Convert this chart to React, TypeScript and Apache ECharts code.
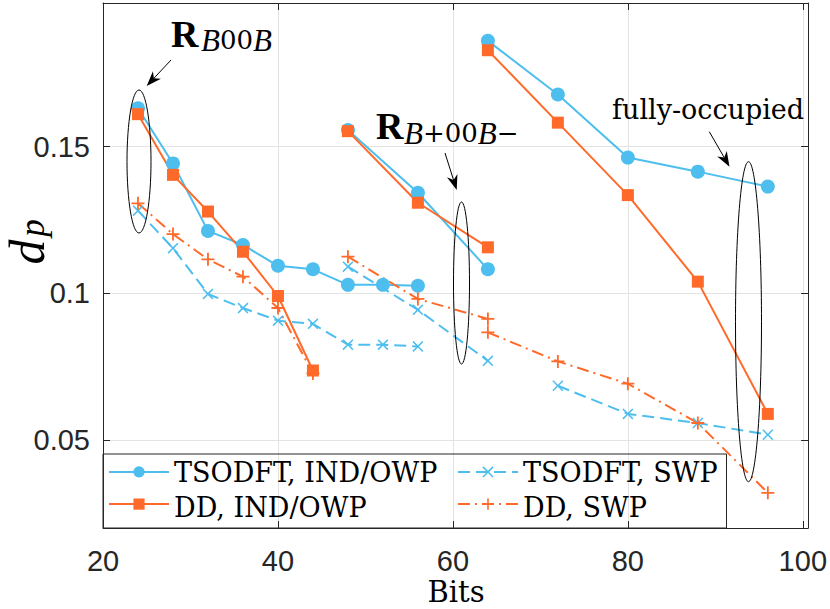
import React, { useEffect, useRef } from "react";
import * as echarts from "echarts";

// ---------- data ----------
const xTickValues = [20, 40, 60, 80, 100];
const yTickValues = [0.05, 0.1, 0.15];
const yTickLabels = ["0.05", "0.1", "0.15"];
const xAxisTitle = "Bits";

// TSODFT, IND/OWP
const tsodftIndB00B = [[24, 0.1631], [28, 0.1443], [32, 0.1213], [36, 0.1165], [40, 0.1094], [44, 0.1082], [48, 0.1029], [52, 0.1029], [56, 0.1026]];
const tsodftIndBp00Bm = [[48, 0.1557], [56, 0.1343], [64, 0.1082]];
const tsodftIndFull = [[64, 0.1861], [72, 0.1678], [80, 0.1463], [88, 0.1415], [96, 0.1364]];

// DD, IND/OWP
const ddIndB00B = [[24, 0.1611], [28, 0.1404], [32, 0.1279], [36, 0.1142], [40, 0.0991], [44, 0.0737]];
const ddIndBp00Bm = [[48, 0.1553], [56, 0.1309], [64, 0.1157]];
const ddIndFull = [[64, 0.1829], [72, 0.1582], [80, 0.1335], [88, 0.104], [96, 0.0589]];

// TSODFT, SWP
const tsodftSwpB00B = [[24, 0.1282], [28, 0.1154], [32, 0.0998], [36, 0.095], [40, 0.0907], [44, 0.0896], [48, 0.0825], [52, 0.0825], [56, 0.0819]];
const tsodftSwpBp00Bm = [[48, 0.1091], [56, 0.0944], [64, 0.077]];
const tsodftSwpFull = [[72, 0.0685], [80, 0.0589], [88, 0.0558], [96, 0.0518]];

// DD, SWP
const ddSwpB00B = [[24, 0.1307], [28, 0.1202], [32, 0.1116], [36, 0.1057], [40, 0.095], [44, 0.0727]];
const ddSwpBp00Bm = [[48, 0.1125], [56, 0.0981], [64, 0.0913]];
const ddSwpFull = [[64, 0.0867], [72, 0.0768], [80, 0.0692], [88, 0.0558], [96, 0.032]];

const legendCol1 = ["TSODFT, IND/OWP", "DD, IND/OWP"];
const legendCol2 = ["TSODFT, SWP", "DD, SWP"];

// ---------- styles ----------
const BLUE = "#4DBEEE";
const ORANGE = "#FF6A2A";
const AXIS = "#262626";
const GRID = "#E3E3E3";
const SERIF = "Liberation Serif";
const SERIF_REG = "DejaVu Serif";
const SANS = "Liberation Sans";

const X_PATH = "path://M1,0L5,4L9,0L10,1L6,5L10,9L9,10L5,6L1,10L0,9L4,5L0,1Z";
const PLUS_PATH = "path://M4.3,0L5.7,0L5.7,4.3L10,4.3L10,5.7L5.7,5.7L5.7,10L4.3,10L4.3,5.7L0,5.7L0,4.3L4.3,4.3Z";

const seriesDefs = [
  { name: legendCol1[0], segments: [tsodftIndB00B, tsodftIndBp00Bm, tsodftIndFull], color: BLUE, symbol: "circle", size: 14, dash: "solid" as any },
  { name: legendCol1[1], segments: [ddIndB00B, ddIndBp00Bm, ddIndFull], color: ORANGE, symbol: "rect", size: 12, dash: "solid" as any },
  { name: legendCol2[0], segments: [tsodftSwpB00B, tsodftSwpBp00Bm, tsodftSwpFull], color: BLUE, symbol: X_PATH, size: 11, dash: [12, 6] as any },
  { name: legendCol2[1], segments: [ddSwpB00B, ddSwpBp00Bm, ddSwpFull], color: ORANGE, symbol: PLUS_PATH, size: 13, dash: [12, 5, 2, 5] as any },
];

function arrow(x1: number, y1: number, x2: number, y2: number) {
  const dx = x2 - x1, dy = y2 - y1;
  const len = Math.hypot(dx, dy);
  const ux = dx / len, uy = dy / len;
  const px = -uy, py = ux;
  const L = 15, W = 5.5;
  const bx = x2 - ux * L, by = y2 - uy * L;
  const nx = x2 - ux * L * 0.7, ny = y2 - uy * L * 0.7;
  return [
    { type: "line", z: 20, shape: { x1, y1, x2: nx, y2: ny }, style: { stroke: "#000", lineWidth: 1 } },
    { type: "polygon", z: 20, shape: { points: [[x2, y2], [bx + px * W, by + py * W], [nx, ny], [bx - px * W, by - py * W]] }, style: { fill: "#000" } },
  ];
}

function ellipse(cx: number, cy: number, rx: number, ry: number) {
  return { type: "ellipse", z: 20, shape: { cx, cy, rx, ry }, style: { fill: "none", stroke: "#000", lineWidth: 1 } };
}

function serifText(text: string, x: number, y: number, size: number, align = "left") {
  return {
    type: "text", z: 20, x, y,
    style: { text, fontFamily: SERIF_REG, fontSize: size, lineHeight: size, fill: "#000", align, verticalAlign: "middle" },
  };
}

const subRich = {
  i: { fontFamily: SERIF, fontStyle: "italic", fontSize: 31, fill: "#000" },
  u: { fontFamily: SERIF_REG, fontSize: 26, fill: "#000" },
};

export default function App() {
  const ref = useRef<HTMLDivElement>(null);
  useEffect(() => {
    if (!ref.current) return;
    const chart = echarts.init(ref.current, null, { renderer: "svg" });
    const series: any[] = [];
    seriesDefs.forEach((d) => {
      d.segments.forEach((seg) => {
        series.push({
          name: d.name, type: "line", data: seg, symbol: d.symbol, symbolSize: d.size,
          showSymbol: true, showAllSymbol: true, silent: true,
          itemStyle: { color: d.color, borderWidth: 0 },
          lineStyle: { color: d.color, width: 2, type: d.dash },
          emphasis: { disabled: true },
        });
      });
    });

    // legend component draws the line+marker icons; its labels are drawn as serif texts below
    const legendCommon = {
      orient: "vertical", top: 466.3, itemWidth: 60, itemHeight: 14, itemGap: 21, padding: 0, selectedMode: false,
      formatter: () => "",
      textStyle: { fontSize: 10, lineHeight: 12 },
    };
    const axisLineStyle = { show: true, lineStyle: { color: AXIS, width: 1 } };
    const tick = { show: true, inside: true, length: 7, lineStyle: { color: AXIS, width: 1 } };

    chart.setOption({
      animation: false,
      backgroundColor: "#fff",
      grid: { left: 103, top: 3, right: 19, bottom: 81, containLabel: false },
      xAxis: [
        {
          type: "value", min: 20, max: 100.6, minInterval: 20, maxInterval: 20, position: "bottom",
          axisLine: axisLineStyle, axisTick: tick,
          splitLine: { show: true, lineStyle: { color: GRID, width: 1 } },
          axisLabel: {
            margin: 18, fontFamily: SANS, fontSize: 29, lineHeight: 29, color: AXIS,
            formatter: (v: number) => (xTickValues.some((t) => Math.abs(t - v) < 1e-6) ? String(Math.round(v)) : ""),
          },
        },
        {
          type: "value", min: 20, max: 100.6, minInterval: 20, maxInterval: 20, position: "top",
          axisLine: axisLineStyle, axisTick: tick, splitLine: { show: false }, axisLabel: { show: false },
        },
      ],
      yAxis: [
        {
          type: "value", min: 0.02, max: 0.199, minInterval: 0.05, maxInterval: 0.05, position: "left",
          axisLine: axisLineStyle, axisTick: tick,
          splitLine: { show: true, lineStyle: { color: GRID, width: 1 } },
          axisLabel: {
            margin: 13, fontFamily: SANS, fontSize: 29, lineHeight: 29, color: AXIS,
            formatter: (v: number) => {
              const i = yTickValues.findIndex((t) => Math.abs(t - v) < 1e-6);
              return i >= 0 ? yTickLabels[i] : "";
            },
          },
        },
        {
          type: "value", min: 0.02, max: 0.199, minInterval: 0.05, maxInterval: 0.05, position: "right",
          axisLine: axisLineStyle, axisTick: tick, splitLine: { show: false }, axisLabel: { show: false },
        },
      ],
      legend: [
        { ...legendCommon, left: 108, data: legendCol1 },
        { ...legendCommon, left: 457, data: legendCol2 },
      ],
      graphic: [
        { type: "rect", z: 15, shape: { x: 103, y: 454, width: 623.5, height: 74 }, style: { fill: "none", stroke: AXIS, lineWidth: 1 } },
        serifText(legendCol1[0], 174, 472.5, 27),
        serifText(legendCol1[1], 174, 507.5, 27),
        serifText(legendCol2[0], 523, 472.5, 27),
        serifText(legendCol2[1], 523, 507.5, 27),
        serifText(xAxisTitle, 456, 592, 29, "center"),
        ellipse(139, 161.5, 12, 71.5),
        ellipse(461.5, 283, 8, 81),
        ellipse(748.5, 321.7, 13, 160),
        ...arrow(171, 60, 146.7, 86),
        ...arrow(445, 153, 456.7, 190),
        ...arrow(709.3, 131.7, 729.5, 166.7),
        { type: "text", z: 20, x: 171, y: 34, style: { text: "R", fontFamily: SERIF, fontWeight: "bold", fontSize: 38, fill: "#000", align: "left", verticalAlign: "middle" } },
        { type: "text", z: 20, x: 201, y: 40, style: { text: "{i|B}{u|00}{i|B}", rich: subRich, align: "left", verticalAlign: "middle" } },
        { type: "text", z: 20, x: 376, y: 126, style: { text: "R", fontFamily: SERIF, fontWeight: "bold", fontSize: 38, fill: "#000", align: "left", verticalAlign: "middle" } },
        { type: "text", z: 20, x: 404, y: 133, style: { text: "{i|B}{u|+00}{i|B}{u|−}", rich: subRich, align: "left", verticalAlign: "middle" } },
        serifText("fully-occupied", 612, 109, 27),
        { type: "text", z: 20, x: 27, y: 252, rotation: Math.PI / 2, style: { text: "d", fontFamily: SERIF, fontStyle: "italic", fontSize: 50, fill: "#000", align: "center", verticalAlign: "middle" } },
        { type: "text", z: 20, x: 32, y: 228, rotation: Math.PI / 2, style: { text: "p", fontFamily: SERIF, fontStyle: "italic", fontSize: 35, fill: "#000", align: "center", verticalAlign: "middle" } },
      ],
      series,
    });
    return () => chart.dispose();
  }, []);
  return <div ref={ref} style={{ position: "absolute", left: 0, top: 0, width: 830, height: 609 }} />;
}
